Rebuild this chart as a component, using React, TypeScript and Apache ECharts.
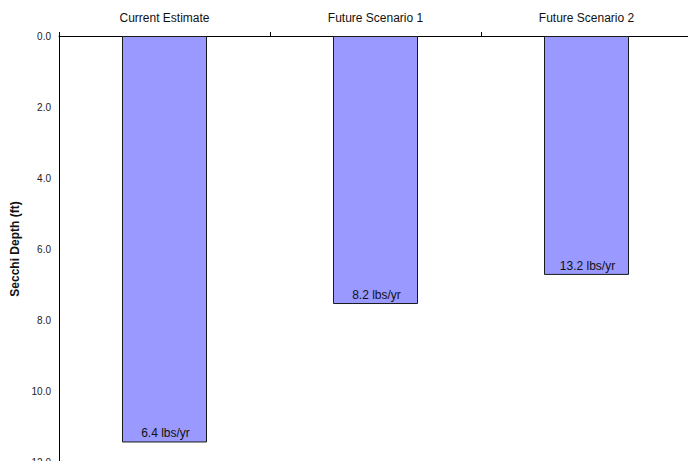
import React, { useEffect, useRef } from "react";
import * as echarts from "echarts";

// Scenario names along the top axis
const scenarios = ["Current Estimate", "Future Scenario 1", "Future Scenario 2"];
// Secchi depth for each scenario (ft, measured downward from the surface)
const secchiDepth = [11.45, 7.55, 6.73];
// Phosphorus load shown at the foot of each bar (lbs/yr)
const loads = [6.4, 8.2, 13.2];

const FONT = "'Liberation Sans', Arial, sans-serif";

export default function App() {
  const ref = useRef<HTMLDivElement>(null);

  useEffect(() => {
    if (!ref.current) return;
    const chart = echarts.init(ref.current, undefined, { renderer: "svg" });
    chart.setOption({
      animation: false,
      backgroundColor: "#ffffff",
      grid: { left: 59, right: 8, top: 36, bottom: 18, containLabel: false },
      xAxis: {
        type: "category",
        position: "top",
        data: scenarios,
        axisLine: { show: true, lineStyle: { color: "#000", width: 1 } },
        axisTick: { show: true, length: 4, lineStyle: { color: "#000" } },
        axisLabel: {
          color: "#111",
          fontFamily: FONT,
          fontSize: 12,
          margin: 12,
        },
        splitLine: { show: false },
      },
      yAxis: {
        type: "value",
        inverse: true,
        min: 0,
        max: 12,
        interval: 2,
        name: "Secchi Depth (ft)",
        nameLocation: "middle",
        nameGap: 38,
        nameTextStyle: {
          color: "#111",
          fontFamily: FONT,
          fontSize: 12,
          fontWeight: "bold",
        },
        axisLine: { show: true, lineStyle: { color: "#000", width: 1 } },
        axisTick: { show: false },
        axisLabel: {
          color: "#222",
          fontFamily: FONT,
          fontSize: 10,
          margin: 8,
          formatter: (v: number) => v.toFixed(1),
        },
        splitLine: { show: false },
      },
      series: [
        {
          type: "bar",
          data: secchiDepth,
          barWidth: 85,
          itemStyle: {
            color: "#9999ff",
            borderColor: "#1a1a1a",
            borderWidth: 1,
          },
          label: {
            show: true,
            position: "insideBottom",
            distance: 3,
            offset: [1, 0],
            color: "#111",
            fontFamily: FONT,
            fontSize: 12,
            formatter: (p: { dataIndex: number }) => `${loads[p.dataIndex]} lbs/yr`,
          },
        },
      ],
    });
    return () => chart.dispose();
  }, []);

  return (
    <div
      ref={ref}
      style={{ position: "absolute", left: 0, top: 0, width: 700, height: 480 }}
    />
  );
}
